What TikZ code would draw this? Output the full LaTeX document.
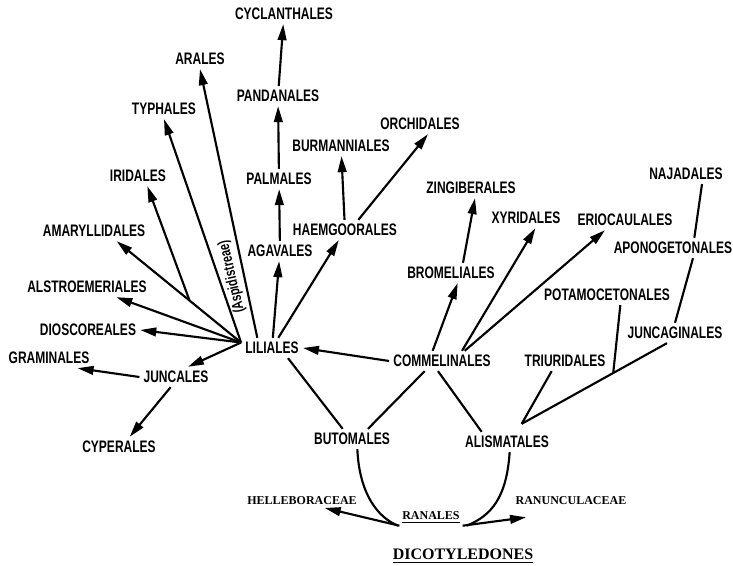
\documentclass[tikz,border=0pt]{standalone}
\usepackage{fontspec}
\newfontfamily\labfont{Liberation Sans}[FakeStretch=0.72]
\newfontfamily\serfont{Liberation Serif}
\usetikzlibrary{arrows.meta,calc}

\begin{document}
\begin{tikzpicture}[x=0.75pt, y=-0.75pt,
    lab/.style={font=\labfont\bfseries\fontsize{12.5}{14}\selectfont, inner sep=3pt},
    ser/.style={font=\serfont\bfseries\fontsize{9}{11}\selectfont, inner sep=2pt},
    arr/.style={line width=1.6pt, -{Triangle[length=12pt, width=6.5pt]}},
    lin/.style={line width=1.6pt}]
    \useasboundingbox (0,0) rectangle (733,566);

    % Orders, top to bottom
    \node[lab] (cycl) at (284,14) {CYCLANTHALES};
    \node[lab] (aral) at (200,59) {ARALES};
    \node[lab] (pand) at (278,96) {PANDANALES};
    \node[lab] (typh) at (164,109) {TYPHALES};
    \node[lab] (orch) at (420,124) {ORCHIDALES};
    \node[lab] (burm) at (341,146) {BURMANNIALES};
    \node[lab] (naja) at (686,174) {NAJADALES};
    \node[lab] (irid) at (138,176) {IRIDALES};
    \node[lab] (palm) at (279,179) {PALMALES};
    \node[lab] (zing) at (471,188) {ZINGIBERALES};
    \node[lab] (xyri) at (526,218) {XYRIDALES};
    \node[lab] (erio) at (625,220) {ERIOCAULALES};
    \node[lab] (haem) at (345,230) {HAEMGOORALES};
    \node[lab] (amar) at (94,231) {AMARYLLIDALES};
    \node[lab] (apon) at (673,248) {APONOGETONALES};
    \node[lab] (agav) at (280,251) {AGAVALES};
    \node[lab] (brom) at (451,273) {BROMELIALES};
    \node[lab] (alst) at (87,287) {ALSTROEMERIALES};
    \node[lab] (pota) at (607,295) {POTAMOCETONALES};
    \node[lab] (dios) at (88,330) {DIOSCOREALES};
    \node[lab] (junc) at (675,333) {JUNCAGINALES};
    \node[lab] (lil) at (272,348) {LILIALES};
    \node[lab] (gram) at (49,358) {GRAMINALES};
    \node[lab] (comm) at (442,361) {COMMELINALES};
    \node[lab] (triu) at (565,361) {TRIURIDALES};
    \node[lab] (juncl) at (176,377) {JUNCALES};
    \node[lab] (buto) at (352,439) {BUTOMALES};
    \node[lab] (alis) at (507,442) {ALISMATALES};
    \node[lab] (cype) at (119,447) {CYPERALES};
    \node[lab, font=\labfont\bfseries\fontsize{11.5}{13}\selectfont, inner sep=0pt, rotate=103] (aspi) at (232,277) {(Aspidistreae)};

    % Dicot side
    \node[ser] (hell) at (302,501) {HELLEBORACEAE};
    \node[ser] (ranu) at (571,501) {RANUNCULACEAE};
    \node[ser, anchor=base] (ran) at (431,520) {\underline{RANALES}};
    \node[ser, font=\serfont\bfseries\fontsize{12}{14}\selectfont, anchor=base] (dico) at (463,560) {\underline{DICOTYLEDONES}};

    % Liliales fan
    \draw[arr] (lil.170) -- (typh.south);
    \draw[arr] ([xshift=-11pt]lil.north) -- (aral.south);
    \draw[arr] (lil.170) -- ([xshift=17pt]amar.south);
    \coordinate (irfork) at ($(lil.170)!0.414!([xshift=17pt]amar.south)$);
    \draw[arr] (irfork) -- ([xshift=7pt]irid.south);
    \draw[arr] (lil.170) -- ([xshift=22pt]alst.south);
    \draw[arr] (lil.170) -- (dios.east);
    \draw[arr] (lil.170) -- ([xshift=9pt]juncl.north);

    % Upward chains
    \draw[arr] (lil) -- (agav);
    \draw[arr] (agav) -- (palm);
    \draw[arr] (palm) -- (pand);
    \draw[arr] (pand) -- (cycl);
    \draw[arr] (lil) -- (haem);
    \draw[arr] (haem) -- (burm);
    \draw[arr] ([xshift=10pt]haem.north) -- ([xshift=6pt]orch.south);

    % Juncales
    \draw[arr] (juncl.west) -- ([xshift=-12pt]gram.south east);
    \draw[arr] ([xshift=-4pt]juncl.south) -- ([xshift=8pt]cype.north);

    % Commelinales
    \draw[arr] (comm.west) -- (lil.east);
    \draw[arr] ([xshift=-7pt]comm.north) -- ([xshift=5pt]brom.south);
    \draw[arr] ([xshift=9pt]brom.north) -- ([xshift=3pt]zing.south);
    \draw[arr] ([xshift=15pt]comm.north) -- ([xshift=7pt]xyri.south);
    \draw[arr] ([xshift=17pt]comm.north) -- ([xshift=-15pt]erio.south);

    % Butomales and Alismatales
    \draw[lin] ([xshift=12pt]lil.south) -- ([xshift=-7pt]buto.north);
    \draw[lin] ([xshift=-13pt]comm.south) -- ([xshift=12pt]buto.north);
    \draw[lin] ([xshift=-3pt]comm.south) -- ([xshift=-19pt]alis.north);

    % Alismatales branch
    \coordinate (afork) at ([xshift=11pt,yshift=6pt]alis.north);
    \draw[lin] (afork) -- ([xshift=-10pt]triu.south);
    \draw[lin] (afork) -- ([xshift=-6pt]junc.south);
    \coordinate (pfork) at ($(afork)!0.63!([xshift=-6pt]junc.south)$);
    \draw[lin] (pfork) -- ([xshift=10pt]pota.south);
    \draw[lin] ([xshift=15pt]apon.south) -- (junc.north);
    \draw[lin] ([xshift=12pt]naja.south) -- ([xshift=16pt]apon.north);

    % Ranales
    \draw[lin] ([xshift=4pt]buto.south) .. controls +(2,45) and +(-20,-8) .. ([xshift=-1pt]ran.south west);
    \draw[lin] ([xshift=2pt]alis.south) .. controls +(-3,45) and +(25,-10) .. ([xshift=3pt]ran.south east);
    \draw[arr] (ran.south east) -- ([xshift=10pt,yshift=-7pt]ranu.south west);
    \draw[arr] (ran.south west) -- ([xshift=17pt]hell.south);
\end{tikzpicture}
\end{document}
